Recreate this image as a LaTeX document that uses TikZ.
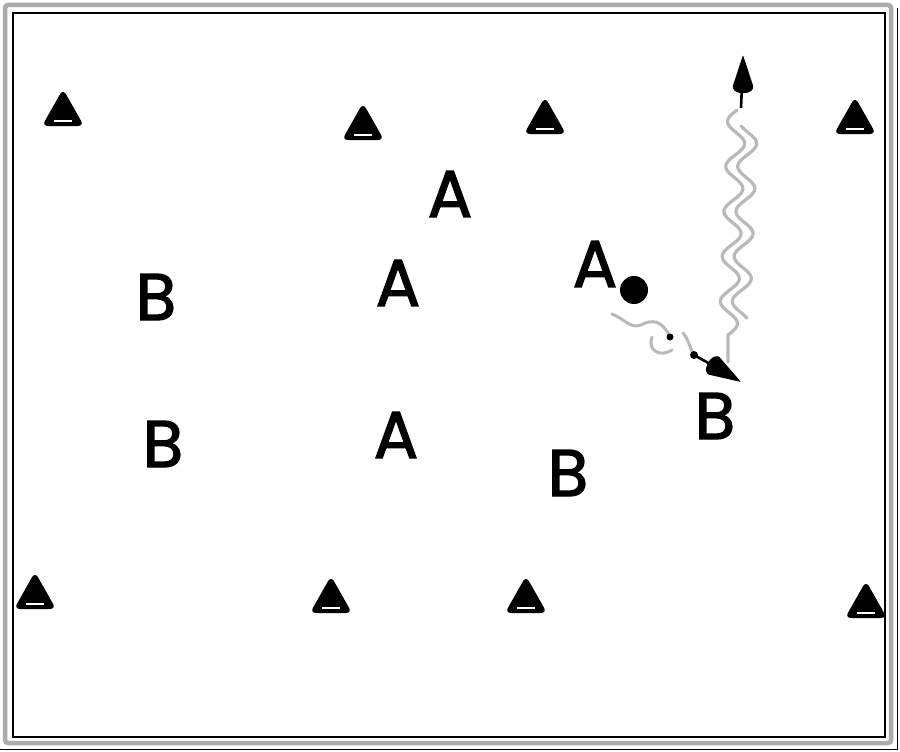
\documentclass[tikz,border=0pt]{standalone}
\usepackage{fontspec}
\newfontfamily\lf{Poppins}[FakeBold=2]
\usetikzlibrary{arrows.meta}
\begin{document}
\begin{tikzpicture}[x=1pt,y=-1pt,
  cone/.pic={\fill[black,rounded corners=6pt] (-21,0) -- (0,-37) -- (21,0) -- cycle;
             \draw[white,line width=1.6pt] (-9,-5) -- (9,-5);},
  head/.pic={\fill[black,rounded corners=1pt] (0,0) -- (-32,-10.5) .. controls (-40,-8) and (-40,8) .. (-32,10.5) -- cycle;},
  letter/.style={inner sep=0pt,font=\lf\fontsize{66}{66}\selectfont},
  wave/.style={gray!55,line width=3.2pt,line cap=round},
  dribble/.style={gray!55,line width=3pt,line cap=round},
  tipline/.style={black,line width=2.6pt}]
\useasboundingbox (0,0) rectangle (900,752);
\fill[white] (0,0) rectangle (900,752);
% frame
\draw[gray!65,line width=4.5pt,rounded corners=3pt] (5,5) rectangle (891,743);
\draw[black,line width=1.3pt] (13,13) rectangle (885,737);
\draw[black,line width=1pt] (0,749.5) -- (897,749.5) -- (897,8);
% cones
\pic (c1) at (63,126) {cone};
\pic (c2) at (363,140) {cone};
\pic (c3) at (545,134) {cone};
\pic (c4) at (855,134) {cone};
\pic (c5) at (35,609) {cone};
\pic (c6) at (331,613) {cone};
\pic (c7) at (526,613) {cone};
\pic (c8) at (866,618) {cone};
% players
\node[letter] (a1) at (450,194) {A};
\node[letter] (a2) at (398,283) {A};
\node[letter] (a3) at (595,264) {A};
\node[letter] (a4) at (396,435) {A};
\node[letter] (b1) at (156,297) {B};
\node[letter] (b2) at (163,444) {B};
\node[letter] (b3) at (568,473) {B};
\node[letter] (b4) at (715,416) {B};
% ball
\node[circle,fill=black,minimum size=28pt,inner sep=0pt] (ball) at (634,290) {};
% dribble
\coordinate (d0) at (612,314);
\coordinate (d1) at (694,355);
\coordinate (d2) at (741,382);
\draw[dribble] (d0) .. controls (625,319) and (630,329) .. (641,325)
   .. controls (652,319) and (662,320) .. (670,337);
\fill[black] (670,337) circle (3.5pt);
\draw[dribble] (652,337) .. controls (647,350) and (660,358) .. (672,350);
\draw[dribble] (683,333) .. controls (689,340) and (690,349) .. (d1);
\fill[black] (d1) circle (4pt);
\draw[tipline] (d1) -- (712,365);
\pic[rotate=-31] at (d2) {head};
% pass (vertical wavy)
\coordinate (p0) at (741,108);
\coordinate (p1) at (743,55);
\draw[wave] plot[domain=0:225,samples=160,variable=\t]
   ({737-\t*0.04-9*sin(\t*8)},{110+\t}) -- (728,362);
\draw[wave] plot[domain=16:208,samples=140,variable=\t]
   ({749-\t*0.04-9*sin(\t*8)},{110+\t});
\draw[tipline] (p0) -- (742,85);
\pic[rotate=90] at (p1) {head};
\end{tikzpicture}
\end{document}
